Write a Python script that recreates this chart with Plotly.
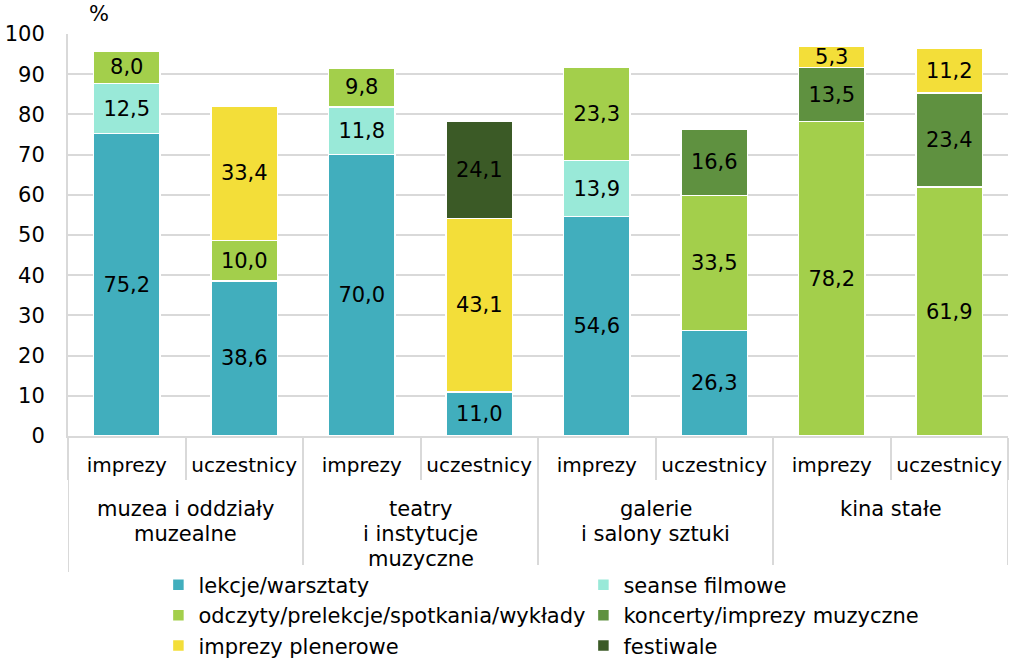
import plotly.graph_objects as go

group_labels = [["muzea i oddziały", "muzealne"], ["teatry", "i instytucje", "muzyczne"],
                ["galerie", "i salony sztuki"], ["kina stałe"]]
subs = ["imprezy", "uczestnicy"] * 4

series_names = [
    "lekcje/warsztaty",
    "seanse filmowe",
    "odczyty/prelekcje/spotkania/wykłady",
    "koncerty/imprezy muzyczne",
    "imprezy plenerowe",
    "festiwale",
]
lekcje = [75.2, 38.6, 70.0, 11.0, 54.6, 26.3, None, None]
seanse = [12.5, None, 11.8, None, 13.9, None, None, None]
odczyty = [8.0, 10.0, 9.8, None, 23.3, 33.5, 78.2, 61.9]
koncerty = [None, None, None, None, None, 16.6, 13.5, 23.4]
plenerowe = [None, 33.4, None, 43.1, None, None, 5.3, 11.2]
festiwale = [None, None, None, 24.1, None, None, None, None]
series_values = [lekcje, seanse, odczyty, koncerty, plenerowe, festiwale]
colors = ["#41AEBD", "#99E9D8", "#A3CF4B", "#5F9140", "#F3DE39", "#3B5A26"]

FONT = "DejaVu Sans"
GRID = "#D9D9D9"
pos = list(range(len(subs)))
per_group = len(subs) // len(group_labels)

fig = go.Figure()
for name, vals, col in zip(series_names, series_values, colors):
    fig.add_trace(go.Bar(
        x=pos,
        y=vals,
        name=name,
        marker=dict(color=col, line=dict(color="white", width=1.5)),
        texttemplate="%{y:.1f}",
        textposition="inside",
        insidetextanchor="middle",
        textfont=dict(color="black", size=21, family=FONT),
        width=0.57,
    ))

# group labels (one annotation per line) and long dividers under the axis
for i, lines in enumerate(group_labels):
    for j, line in enumerate(lines):
        fig.add_annotation(text=line, xref="x", yref="paper",
                           x=i * per_group + (per_group - 1) / 2, y=-0.147,
                           yshift=-25 * j,
                           xanchor="center", yanchor="top", showarrow=False,
                           font=dict(size=21, family=FONT, color="black"))
for i in range(len(group_labels) + 1):
    xd = i * per_group - 0.5
    fig.add_shape(type="line", xref="x", yref="paper", x0=xd, x1=xd, y0=0, y1=-0.338,
                  line=dict(color=GRID, width=2))

fig.add_annotation(text="%", xref="paper", yref="paper", x=0.02, y=1.015,
                   xanchor="left", yanchor="bottom", showarrow=False,
                   font=dict(size=21, family=FONT, color="black"))

fig.update_layout(
    barmode="stack",
    separators=", ",
    width=1009, height=662,
    margin=dict(l=68, r=1, t=34, b=226),
    plot_bgcolor="white",
    paper_bgcolor="white",
    font=dict(family=FONT, size=21, color="black"),
    uniformtext=dict(minsize=21, mode="show"),
    showlegend=True,
    legend=dict(orientation="h", xref="container", yref="container",
                x=0.157, y=0.147, xanchor="left", yanchor="top",
                entrywidth=380, traceorder="normal", font=dict(size=21, family=FONT),
                itemwidth=30),
    yaxis=dict(range=[0, 100], dtick=10, showgrid=True, gridcolor=GRID,
               gridwidth=2, showline=True, linecolor=GRID, linewidth=2,
               ticks="", ticklabelstandoff=17, zeroline=False, automargin=False),
    xaxis=dict(range=[-0.5, len(subs) - 0.5], tickmode="array", tickvals=pos, ticktext=subs,
               tickfont=dict(size=20),
               showline=True, linecolor=GRID, linewidth=2, showgrid=False, zeroline=False,
               ticks="", ticklabelstandoff=10, automargin=False,
               minor=dict(tickmode="linear", tick0=0.5, dtick=1, ticks="outside",
                          ticklen=42, tickcolor=GRID, tickwidth=2, showgrid=False)),
)

fig.write_html("out.html", config={"displayModeBar": False},
               post_script="document.body.style.margin='0';")
